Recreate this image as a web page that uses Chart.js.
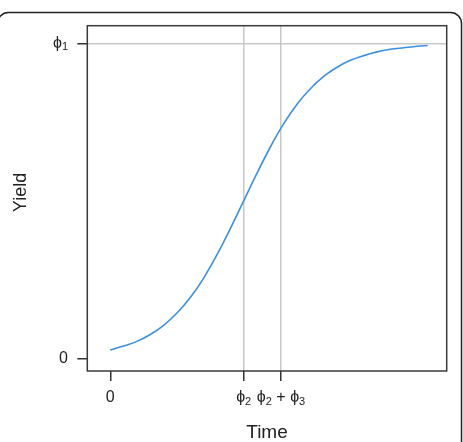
<!DOCTYPE html>
<html>
<head>
<meta charset="utf-8">
<script src="https://cdn.jsdelivr.net/npm/chart.js@4/dist/chart.umd.min.js"></script>
<style>
  body { margin: 0; background: #fff; }
  canvas { display: block; }
</style>
</head>
<body>
<canvas id="growthChart" width="463" height="442"></canvas>
<script>
// values (time in arbitrary units, yield as a share of phi1)
const timeValues = [0, 0.5, 1, 1.5, 2, 2.5, 3, 3.5, 4, 4.5, 5, 5.5, 6, 6.5, 7, 7.5, 8, 8.5, 9, 9.5, 10, 10.5, 11, 11.5, 11.9];
const yieldValues = [0.027, 0.039, 0.054, 0.076, 0.105, 0.144, 0.193, 0.255, 0.329, 0.412, 0.5, 0.588, 0.671, 0.745, 0.807, 0.856, 0.895, 0.924, 0.946, 0.961, 0.973, 0.981, 0.986, 0.991, 0.993];

// tick positions and labels ("_" marks a subscript)
const xTickValues = [0, 5, 6.4];
const xTickLabels = ["0", "ϕ_2", "ϕ_2 + ϕ_3"];
const yTickValues = [0, 1];
const yTickLabels = ["0", "ϕ_1"];

const FONT = "'Liberation Sans', 'DejaVu Sans', sans-serif";
const INK = "#222";

function parseLabel(label) {
    let parts = [];
    let i = 0;
    while (i < label.length) {
        if (label[i] === "_") {
            parts.push({ text: label[i + 1], sub: true });
            i += 2;
        } else {
            let j = i;
            while (j < label.length && label[j] !== "_") j++;
            parts.push({ text: label.slice(i, j), sub: false });
            i = j;
        }
    }
    return parts;
}

function drawLabel(ctx, label, x, y, align) {
    let parts = parseLabel(label);
    let widths = parts.map(p => {
        ctx.font = (p.sub ? "11px " : "16px ") + FONT;
        return ctx.measureText(p.text).width;
    });
    let total = widths.reduce((a, b) => a + b, 0);
    let start = align === "right" ? x - total : x - total / 2;
    ctx.textAlign = "left";
    ctx.textBaseline = "middle";
    parts.forEach((p, k) => {
        ctx.font = (p.sub ? "11px " : "16px ") + FONT;
        ctx.fillText(p.text, start, p.sub ? y + 4 : y);
        start += widths[k];
    });
}

const decorations = {
    id: "decorations",
    beforeDraw(chart) {
        const ctx = chart.ctx;
        ctx.save();
        ctx.fillStyle = "#fff";
        ctx.fillRect(0, 0, chart.width, chart.height);
        // outer figure frame, its left side falls just off the canvas
        ctx.strokeStyle = "#222";
        ctx.lineWidth = 1.5;
        ctx.beginPath();
        ctx.roundRect(-2.5, 12.5, 464, 470, 11);
        ctx.stroke();
        ctx.restore();
    },
    afterDraw(chart) {
        const ctx = chart.ctx;
        const area = chart.chartArea;
        const xs = chart.scales.x;
        const ys = chart.scales.y;
        ctx.save();
        ctx.strokeStyle = "#3a3a3a";
        ctx.lineWidth = 1.5;
        ctx.strokeRect(area.left, area.top, area.right - area.left, area.bottom - area.top);

        ctx.fillStyle = INK;
        xTickValues.forEach((v, i) => {
            drawLabel(ctx, xTickLabels[i], xs.getPixelForValue(v), 398, "center");
        });
        yTickValues.forEach((v, i) => {
            drawLabel(ctx, yTickLabels[i], 68, ys.getPixelForValue(v), "right");
        });

        ctx.font = "19px " + FONT;
        ctx.textAlign = "center";
        ctx.textBaseline = "alphabetic";
        ctx.fillText("Time", (area.left + area.right) / 2, 438);

        ctx.font = "18px " + FONT;
        ctx.translate(26, 192.5);
        ctx.rotate(-Math.PI / 2);
        ctx.fillText("Yield", 0, 0);
        ctx.restore();
    }
};

function guideColor(ctx) {
    return ctx.tick && ctx.tick.value === 0 ? "rgba(0,0,0,0)" : "#c8c8c8";
}

let ctx = document.getElementById("growthChart").getContext("2d");

new Chart(ctx, {
    type: "line",
    data: {
        datasets: [{
            data: timeValues.map((t, i) => ({ x: t, y: yieldValues[i] })),
            borderColor: "#3d8fe0",
            borderWidth: 1.6,
            pointRadius: 0,
            fill: false,
            cubicInterpolationMode: "monotone"
        }]
    },
    options: {
        responsive: false,
        animation: false,
        events: [],
        layout: {
            padding: { left: 77.3, right: 16.3, top: 25.7, bottom: 61 }
        },
        plugins: {
            legend: { display: false },
            tooltip: { enabled: false }
        },
        scales: {
            x: {
                type: "linear",
                min: -0.862,
                max: 12.61,
                afterBuildTicks: scale => { scale.ticks = xTickValues.map(v => ({ value: v })); },
                ticks: { display: false },
                border: { display: false },
                grid: {
                    color: guideColor,
                    lineWidth: 1.5,
                    drawTicks: true,
                    tickLength: 10,
                    tickColor: "#333",
                    tickWidth: 1.5
                }
            },
            y: {
                type: "linear",
                min: -0.04,
                max: 1.056,
                afterBuildTicks: scale => { scale.ticks = yTickValues.map(v => ({ value: v })); },
                ticks: { display: false },
                border: { display: false },
                grid: {
                    color: guideColor,
                    lineWidth: 1.5,
                    drawTicks: true,
                    tickLength: 10,
                    tickColor: "#333",
                    tickWidth: 1.5
                }
            }
        }
    },
    plugins: [decorations]
});
</script>
</body>
</html>
